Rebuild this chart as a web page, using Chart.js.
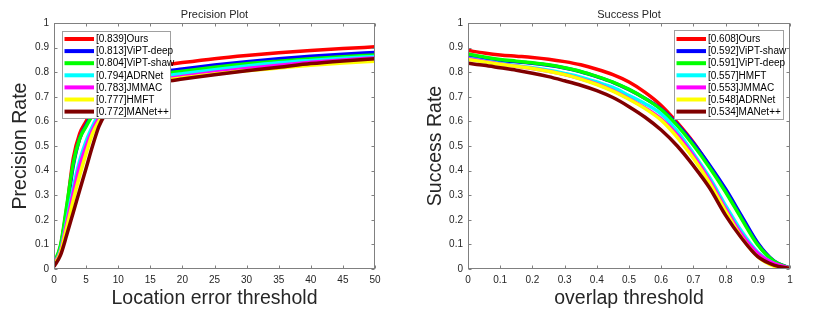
<!DOCTYPE html>
<html>
<head>
<meta charset="utf-8">
<script src="https://cdn.jsdelivr.net/npm/chart.js@4/dist/chart.umd.min.js"></script>
<style>
  html, body { margin: 0; padding: 0; background: #fff; }
  #wrap { position: relative; width: 830px; height: 312px; }
  .c { position: absolute; top: 0; }
</style>
</head>
<body>
<div id="wrap">
  <canvas id="prec" class="c" width="415" height="312" style="left:0"></canvas>
  <canvas id="succ" class="c" width="415" height="312" style="left:415px"></canvas>
</div>
<script>
// ---------- Data ----------
const colors = ['#ff0000', '#0000ff', '#00ff00', '#00ffff', '#ff00ff', '#ffff00', '#800000'];

// Precision plot
const precThresholds = [0,1,2,3,4,5,6,7,8,9,10,12,14,16,18,20,25,30,35,40,45,50];
const precNames = ['[0.839]Ours', '[0.813]ViPT-deep', '[0.804]ViPT-shaw', '[0.794]ADRNet', '[0.783]JMMAC', '[0.777]HMFT', '[0.772]MANet++'];
const precOurs     = [0.02,0.09,0.25,0.45,0.55,0.60,0.65,0.69,0.72,0.745,0.765,0.795,0.812,0.824,0.832,0.839,0.855,0.868,0.879,0.888,0.896,0.903];
const precViptDeep = [0.02,0.085,0.24,0.42,0.53,0.585,0.63,0.67,0.70,0.725,0.745,0.772,0.789,0.800,0.807,0.813,0.829,0.843,0.855,0.865,0.873,0.880];
const precViptShaw = [0.025,0.095,0.26,0.43,0.53,0.58,0.625,0.66,0.69,0.715,0.735,0.762,0.779,0.790,0.798,0.804,0.820,0.834,0.845,0.855,0.863,0.870];
const precADRNet   = [0.02,0.075,0.20,0.33,0.44,0.52,0.58,0.63,0.665,0.69,0.712,0.745,0.766,0.778,0.787,0.794,0.810,0.825,0.838,0.848,0.857,0.864];
const precJMMAC    = [0.02,0.07,0.19,0.31,0.42,0.50,0.565,0.615,0.65,0.68,0.70,0.733,0.753,0.766,0.776,0.783,0.800,0.815,0.828,0.840,0.850,0.858];
const precHMFT     = [0.015,0.065,0.17,0.28,0.38,0.47,0.55,0.60,0.64,0.67,0.695,0.727,0.748,0.761,0.770,0.777,0.793,0.806,0.817,0.828,0.837,0.845];
const precMANet    = [0.01,0.055,0.14,0.23,0.32,0.41,0.50,0.58,0.63,0.665,0.69,0.722,0.743,0.756,0.765,0.772,0.790,0.806,0.820,0.835,0.846,0.855];
const precSeries = [precOurs, precViptDeep, precViptShaw, precADRNet, precJMMAC, precHMFT, precMANet];
const precXTicks = [0,5,10,15,20,25,30,35,40,45,50];
const precXTickLabels = ['0','5','10','15','20','25','30','35','40','45','50'];

// Success plot
const succThresholds = [0,0.05,0.1,0.15,0.2,0.25,0.3,0.35,0.4,0.45,0.5,0.55,0.6,0.65,0.7,0.75,0.8,0.85,0.9,0.95,1];
const succNames = ['[0.608]Ours', '[0.592]ViPT-shaw', '[0.591]ViPT-deep', '[0.557]HMFT', '[0.553]JMMAC', '[0.548]ADRNet', '[0.534]MANet++'];
const succOurs     = [0.888,0.878,0.870,0.865,0.860,0.853,0.843,0.830,0.812,0.790,0.760,0.718,0.665,0.595,0.515,0.418,0.318,0.208,0.102,0.030,0.003];
const succViptShaw = [0.863,0.855,0.847,0.842,0.836,0.828,0.817,0.802,0.782,0.759,0.729,0.693,0.650,0.588,0.512,0.423,0.325,0.215,0.106,0.033,0.003];
const succViptDeep = [0.874,0.862,0.852,0.845,0.838,0.830,0.818,0.803,0.783,0.760,0.730,0.693,0.648,0.583,0.503,0.413,0.313,0.203,0.098,0.032,0.003];
const succHMFT     = [0.857,0.846,0.835,0.826,0.818,0.808,0.795,0.780,0.760,0.738,0.705,0.672,0.630,0.560,0.470,0.372,0.258,0.152,0.068,0.022,0.003];
const succJMMAC    = [0.855,0.844,0.833,0.824,0.815,0.804,0.790,0.773,0.752,0.725,0.692,0.655,0.610,0.545,0.460,0.360,0.245,0.140,0.064,0.023,0.004];
const succADRNet   = [0.852,0.842,0.832,0.824,0.815,0.804,0.790,0.772,0.750,0.723,0.690,0.652,0.605,0.535,0.450,0.350,0.235,0.128,0.050,0.012,0.002];
const succMANet    = [0.836,0.828,0.818,0.808,0.796,0.782,0.765,0.747,0.725,0.697,0.660,0.617,0.565,0.500,0.420,0.330,0.218,0.125,0.050,0.016,0.003];
const succSeries = [succOurs, succViptShaw, succViptDeep, succHMFT, succJMMAC, succADRNet, succMANet];
const succXTicks = [0,0.1,0.2,0.3,0.4,0.5,0.6,0.7,0.8,0.9,1];
const succXTickLabels = ['0','0.1','0.2','0.3','0.4','0.5','0.6','0.7','0.8','0.9','1'];

const yTicks = [0,0.1,0.2,0.3,0.4,0.5,0.6,0.7,0.8,0.9,1];
const yTickLabels = ['0','0.1','0.2','0.3','0.4','0.5','0.6','0.7','0.8','0.9','1'];

// ---------- Rendering ----------
const FONT = '"Liberation Sans", Arial, Helvetica, sans-serif';
const TEXT = '#262626';
const AXIS = '#808080';

const decorPlugin = {
  id: 'decor',
  afterDraw(chart, args, o) {
    const ctx = chart.ctx, a = chart.chartArea, xs = chart.scales.x, ys = chart.scales.y;
    ctx.save();
    // frame
    ctx.strokeStyle = AXIS; ctx.lineWidth = 1;
    const L = Math.round(a.left) + 0.5, R = Math.round(a.right) - 0.5;
    const T = Math.round(a.top) + 0.5, B = Math.round(a.bottom) - 0.5;
    ctx.strokeRect(L, T, R - L, B - T);
    ctx.beginPath();
    xs.ticks.forEach(t => {
      const px = Math.round(xs.getPixelForValue(t.value)) + 0.5;
      ctx.moveTo(px, B); ctx.lineTo(px, B - 3);
      ctx.moveTo(px, T); ctx.lineTo(px, T + 3);
    });
    ys.ticks.forEach(t => {
      const py = Math.round(ys.getPixelForValue(t.value)) + 0.5;
      ctx.moveTo(L, py); ctx.lineTo(L + 3, py);
      ctx.moveTo(R, py); ctx.lineTo(R - 3, py);
    });
    ctx.stroke();
    // titles
    ctx.fillStyle = TEXT;
    ctx.textAlign = 'center'; ctx.textBaseline = 'middle';
    const cx = (a.left + a.right) / 2;
    ctx.font = '11px ' + FONT;
    ctx.fillText(o.title, cx, 14.5);
    ctx.font = '19.5px ' + FONT;
    ctx.fillText(o.xTitle, cx, 299);
    ctx.save();
    ctx.translate(o.yTitleX, (a.top + a.bottom) / 2);
    ctx.rotate(-Math.PI / 2);
    ctx.fillText(o.yTitle, 0, 0);
    ctx.restore();
    // legend
    const b = o.legendBox;
    ctx.fillStyle = '#ffffff';
    ctx.fillRect(b.x, b.y, b.w, b.h);
    ctx.strokeStyle = '#a0a0a0'; ctx.lineWidth = 1;
    ctx.strokeRect(b.x + 0.5, b.y + 0.5, b.w, b.h);
    ctx.font = '10px ' + FONT;
    ctx.textAlign = 'left';
    chart.data.datasets.forEach((ds, i) => {
      const yy = 39 + i * 12.1;
      ctx.strokeStyle = ds.borderColor; ctx.lineWidth = 4;
      ctx.beginPath(); ctx.moveTo(b.x + 2.5, yy); ctx.lineTo(b.x + 32, yy); ctx.stroke();
      ctx.fillStyle = '#000';
      ctx.fillText(ds.label, b.x + 34, yy + 0.5);
    });
    ctx.restore();
  }
};

function makeChart(id, thresholds, series, names, xMax, xTicks, xTickLabels, opts) {
  const datasets = series.map((vals, i) => ({
    label: names[i],
    data: thresholds.map((t, k) => ({ x: t, y: vals[k] })),
    borderColor: colors[i],
    backgroundColor: colors[i],
    borderWidth: 3.5,
    pointRadius: 0,
    cubicInterpolationMode: 'monotone',
    fill: false,
    order: series.length - i
  }));
  return new Chart(document.getElementById(id), {
    type: 'line',
    data: { datasets },
    options: {
      responsive: false,
      animation: false,
      devicePixelRatio: 1,
      layout: { padding: { top: 23, right: 40, left: 0, bottom: 0 } },
      plugins: { legend: { display: false }, tooltip: { enabled: false }, decor: opts },
      scales: {
        x: {
          type: 'linear', min: 0, max: xMax,
          grid: { display: false, drawTicks: false },
          border: { display: false },
          afterBuildTicks: s => { s.ticks = xTicks.map(v => ({ value: v })); },
          afterFit: s => { s.height = 43; },
          ticks: { padding: 5, color: TEXT, font: { family: FONT, size: 10 }, maxRotation: 0,
                   callback: (v, i) => xTickLabels[i] }
        },
        y: {
          type: 'linear', min: 0, max: 1,
          grid: { display: false, drawTicks: false },
          border: { display: false },
          afterBuildTicks: s => { s.ticks = yTicks.map(v => ({ value: v })); },
          afterFit: s => { s.width = opts.left; },
          ticks: { padding: 5, color: TEXT, font: { family: FONT, size: 10 },
                   callback: (v, i) => yTickLabels[i] }
        }
      }
    },
    plugins: [decorPlugin]
  });
}

makeChart('prec', precThresholds, precSeries, precNames, 50, precXTicks, precXTickLabels, {
  title: 'Precision Plot', xTitle: 'Location error threshold', yTitle: 'Precision Rate',
  yTitleX: 21, left: 54, legendBox: { x: 62, y: 31, w: 108, h: 87 }
});
makeChart('succ', succThresholds, succSeries, succNames, 1, succXTicks, succXTickLabels, {
  title: 'Success Plot', xTitle: 'overlap threshold', yTitle: 'Success Rate',
  yTitleX: 21, left: 53, legendBox: { x: 259, y: 30, w: 109, h: 89 }
});
</script>
</body>
</html>
